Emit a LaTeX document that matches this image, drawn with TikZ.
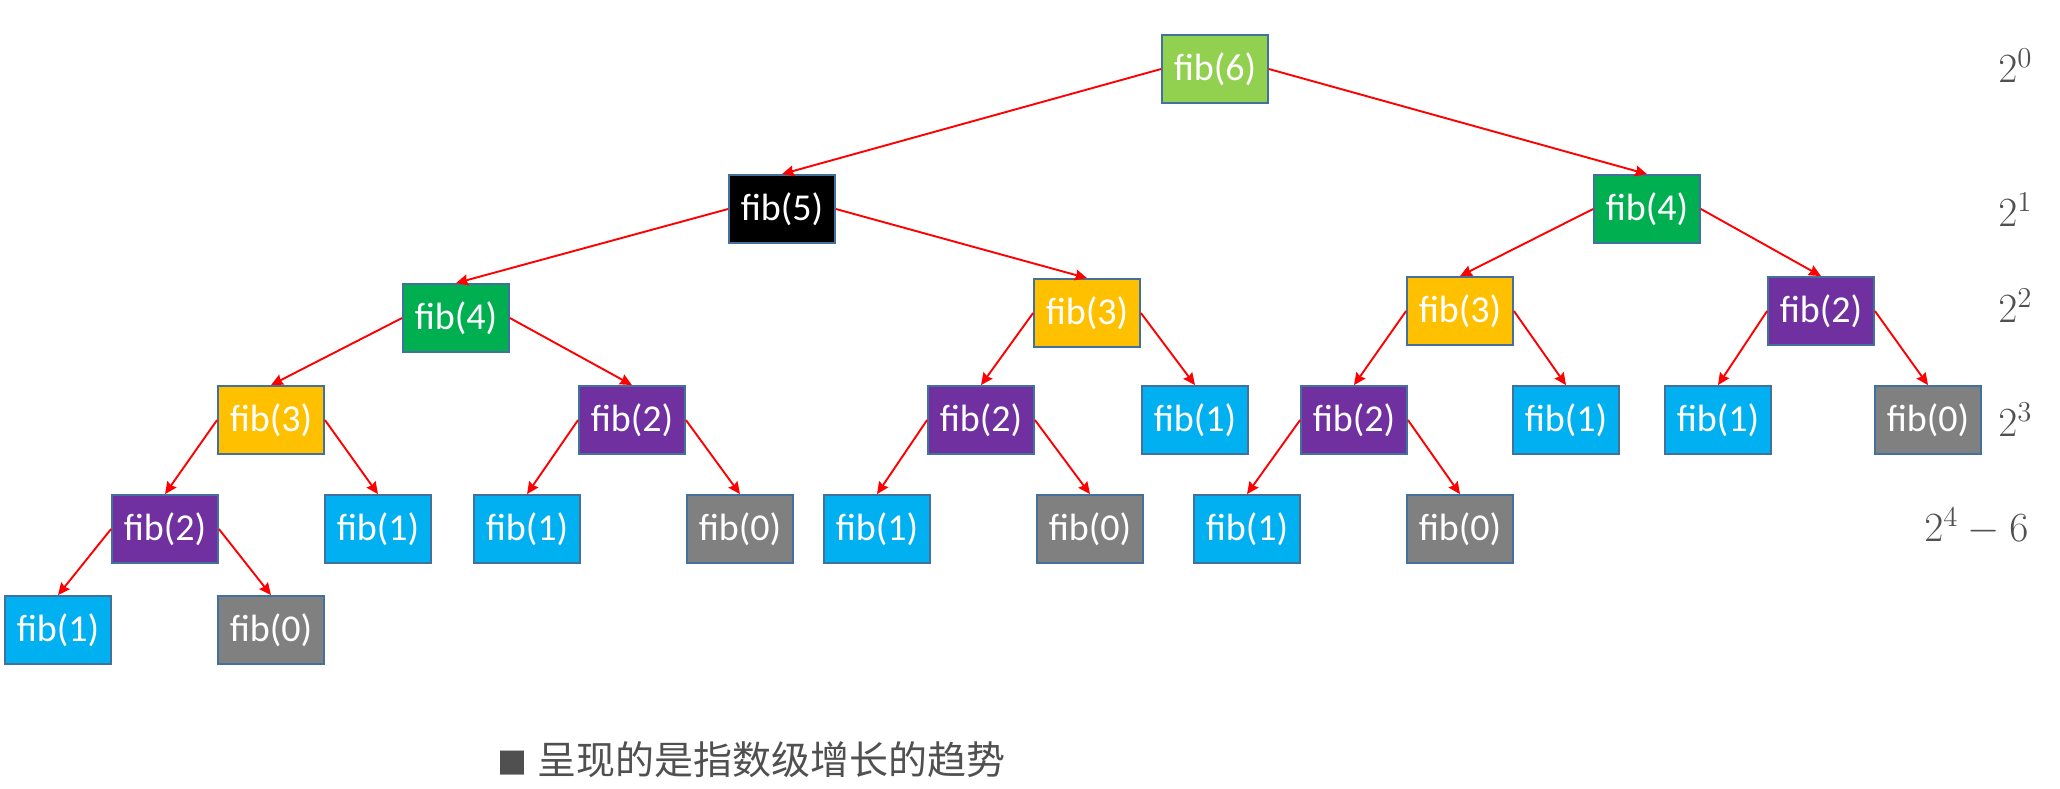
\documentclass[tikz,border=0pt]{standalone}
\usepackage{fontspec}
\setmainfont{Carlito}
\newfontfamily\cjk{Noto Sans CJK SC}
\usetikzlibrary{arrows.meta}
\definecolor{boxrule}{RGB}{65,113,156}
\definecolor{fibsix}{RGB}{146,208,80}
\definecolor{fibfour}{RGB}{0,176,80}
\definecolor{fibthree}{RGB}{255,192,0}
\definecolor{fibtwo}{RGB}{112,48,160}
\definecolor{fibone}{RGB}{0,176,240}
\definecolor{fibzero}{RGB}{128,128,128}
\definecolor{textgray}{RGB}{80,80,80}
\tikzset{
  fibbox/.style={draw=boxrule,line width=0.9pt,minimum width=53pt,minimum height=34pt,
    inner sep=0pt,text=white,font=\fontsize{19}{22}\selectfont},
  call/.style={draw=red,line width=0.95pt,-{Stealth[length=6pt,width=5.5pt,inset=0.7pt]}},
  lvl/.style={text=textgray,font=\fontsize{20}{24}\selectfont,inner sep=0pt},
}

\begin{document}
\begin{tikzpicture}[x=0.5pt,y=-0.5pt]
  \useasboundingbox (0,0) rectangle (2060,788);
  % level 0 and 1
  \node[fibbox,fill=fibsix] (n6) at (1215,69) {fib(6)};
  \node[fibbox,fill=black] (n5) at (782,209) {fib(5)};
  \node[fibbox,fill=fibfour] (n4r) at (1647,209) {fib(4)};
  % level 2
  \node[fibbox,fill=fibfour] (n4l) at (456,318) {fib(4)};
  \node[fibbox,fill=fibthree] (n3m) at (1087,313) {fib(3)};
  \node[fibbox,fill=fibthree] (n3r) at (1460,311) {fib(3)};
  \node[fibbox,fill=fibtwo] (n2r) at (1821,311) {fib(2)};
  % level 3
  \node[fibbox,fill=fibthree] (n3l) at (271,420) {fib(3)};
  \node[fibbox,fill=fibtwo] (n2a) at (632,420) {fib(2)};
  \node[fibbox,fill=fibtwo] (n2b) at (981,420) {fib(2)};
  \node[fibbox,fill=fibone] (n1a) at (1195,420) {fib(1)};
  \node[fibbox,fill=fibtwo] (n2c) at (1354,420) {fib(2)};
  \node[fibbox,fill=fibone] (n1b) at (1566,420) {fib(1)};
  \node[fibbox,fill=fibone] (n1c) at (1718,420) {fib(1)};
  \node[fibbox,fill=fibzero] (n0a) at (1928,420) {fib(0)};
  % level 4
  \node[fibbox,fill=fibtwo] (n2d) at (165,529) {fib(2)};
  \node[fibbox,fill=fibone] (n1d) at (378,529) {fib(1)};
  \node[fibbox,fill=fibone] (n1e) at (527,529) {fib(1)};
  \node[fibbox,fill=fibzero] (n0b) at (740,529) {fib(0)};
  \node[fibbox,fill=fibone] (n1f) at (877,529) {fib(1)};
  \node[fibbox,fill=fibzero] (n0c) at (1090,529) {fib(0)};
  \node[fibbox,fill=fibone] (n1g) at (1247,529) {fib(1)};
  \node[fibbox,fill=fibzero] (n0d) at (1460,529) {fib(0)};
  % level 5
  \node[fibbox,fill=fibone] (n1h) at (58,630) {fib(1)};
  \node[fibbox,fill=fibzero] (n0e) at (271,630) {fib(0)};

  % calls
  \draw[call] (n6.west) -- (n5.north);
  \draw[call] (n6.east) -- (n4r.north);
  \draw[call] (n5.west) -- (n4l.north);
  \draw[call] (n5.east) -- (n3m.north);
  \draw[call] (n4r.west) -- (n3r.north);
  \draw[call] (n4r.east) -- (n2r.north);
  \draw[call] (n4l.west) -- (n3l.north);
  \draw[call] (n4l.east) -- (n2a.north);
  \draw[call] (n3m.west) -- (n2b.north);
  \draw[call] (n3m.east) -- (n1a.north);
  \draw[call] (n3r.west) -- (n2c.north);
  \draw[call] (n3r.east) -- (n1b.north);
  \draw[call] (n2r.west) -- (n1c.north);
  \draw[call] (n2r.east) -- (n0a.north);
  \draw[call] (n3l.west) -- (n2d.north);
  \draw[call] (n3l.east) -- (n1d.north);
  \draw[call] (n2a.west) -- (n1e.north);
  \draw[call] (n2a.east) -- (n0b.north);
  \draw[call] (n2b.west) -- (n1f.north);
  \draw[call] (n2b.east) -- (n0c.north);
  \draw[call] (n2c.west) -- (n1g.north);
  \draw[call] (n2c.east) -- (n0d.north);
  \draw[call] (n2d.west) -- (n1h.north);
  \draw[call] (n2d.east) -- (n0e.north);

  % counts per level
  \node[lvl,anchor=west] (c0) at (1998,66) {$2^{0}$};
  \node[lvl,anchor=west] (c1) at (1998,210) {$2^{1}$};
  \node[lvl,anchor=west] (c2) at (1998,306) {$2^{2}$};
  \node[lvl,anchor=west] (c3) at (1998,420) {$2^{3}$};
  \node[lvl,anchor=west] (c4) at (1924,526) {$2^{4}-6$};

  % note
  \node[text=textgray,anchor=west,inner sep=0pt,font=\cjk\fontsize{19.5}{23}\selectfont]
    (note) at (497,760) {{\fontsize{15}{18}\selectfont■}\hspace{5pt}呈现的是指数级增长的趋势};
\end{tikzpicture}
\end{document}
